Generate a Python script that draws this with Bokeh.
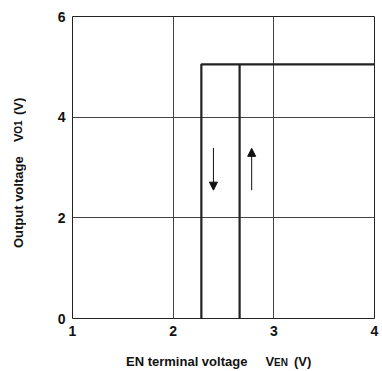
from bokeh.plotting import figure
from bokeh.models import Range1d, FixedTicker, Arrow, NormalHead, ColumnDataSource, Div
from bokeh.layouts import row, column
from bokeh.embed import file_html
from bokeh.resources import INLINE

# Data
x_ticks = [1, 2, 3, 4]
y_ticks = [0, 2, 4, 6]
v_en_fall = 2.28      # EN threshold when falling (output turns off)
v_en_rise = 2.66      # EN threshold when rising (output turns on)
v_out_high = 5.05     # output voltage when enabled
v_en_max = 4.0
v_out_low = 0.0

path_fall_x = [v_en_fall, v_en_fall, v_en_max]
path_fall_y = [v_out_low, v_out_high, v_out_high]
path_rise_x = [v_en_rise, v_en_rise]
path_rise_y = [v_out_low, v_out_high]

arrow_down = dict(x=2.40, y_start=3.39, y_end=2.55)
arrow_up = dict(x=2.78, y_start=2.55, y_end=3.38)

# axis title pieces (main text, symbol, subscript, unit)
x_title = ["EN terminal voltage", "V", "EN", "(V)"]
y_title = ["Output voltage", "V", "O1", "(V)"]

FONT = "Liberation Sans"
YT_W = 30          # width of the y-title strip
FIG_W, FIG_H = 352, 340
XT_H = 31          # height of the x-title strip

p = figure(width=FIG_W, height=FIG_H, output_backend="svg", toolbar_location=None,
           x_range=Range1d(1, 4), y_range=Range1d(0, 6),
           min_border_left=42, min_border_right=8, min_border_top=16, min_border_bottom=22)
p.background_fill_color = "white"
p.border_fill_color = "white"
p.outline_line_color = "#222222"
p.outline_line_width = 1

for ax in (p.xaxis[0], p.yaxis[0]):
    ax.axis_line_color = None
    ax.major_tick_line_color = None
    ax.minor_tick_line_color = None
    ax.major_label_text_font = FONT
    ax.major_label_text_font_style = "bold"
    ax.major_label_text_font_size = "14px"
    ax.major_label_text_color = "#111111"

p.xaxis.ticker = FixedTicker(ticks=x_ticks)
p.yaxis.ticker = FixedTicker(ticks=y_ticks)
p.xaxis.major_label_standoff = 1
p.yaxis.major_label_standoff = 1

p.xgrid.grid_line_color = "#444444"
p.ygrid.grid_line_color = "#444444"
p.xgrid.grid_line_width = 1
p.ygrid.grid_line_width = 1

src = ColumnDataSource(dict(xs=[path_fall_x, path_rise_x], ys=[path_fall_y, path_rise_y]))
p.multi_line(xs="xs", ys="ys", source=src, line_color="#222222", line_width=2.2)

for a in (arrow_down, arrow_up):
    p.add_layout(Arrow(end=NormalHead(size=8, fill_color="#111111", line_color="#111111"),
                       x_start=a["x"], y_start=a["y_start"], x_end=a["x"], y_end=a["y_end"],
                       line_color="#111111", line_width=1))

base_font = (f"font-family:'{FONT}'; font-weight:bold; font-size:13px; line-height:15px; "
             "white-space:nowrap; color:#111111;")

x_html = (f'<div style="padding-left:96px; padding-top:14px; {base_font}">'
          f'{x_title[0]}<span style="margin-left:18px">{x_title[1]}</span>'
          f'<span style="font-size:10px">{x_title[2]}</span>'
          f'<span style="margin-left:6px">{x_title[3]}</span></div>')

y_html = ('<div style="display:flex; align-items:flex-start; padding-left:11px; padding-top:98px;">'
          f'<div style="writing-mode:vertical-rl; transform:rotate(180deg); {base_font}">'
          f'{y_title[0]}<span style="margin-inline-start:14px">{y_title[1]}</span>'
          f'<span style="font-size:10px">{y_title[2]}</span>'
          f'<span style="margin-inline-start:5px">{y_title[3]}</span></div></div>')

xdiv = Div(text=x_html, width=FIG_W, height=XT_H, margin=0)
ydiv = Div(text=y_html, width=YT_W, height=FIG_H + XT_H, margin=0)

layout = row(ydiv, column(p, xdiv, spacing=0), spacing=0)

open("out.html", "w").write(file_html(layout, INLINE))
